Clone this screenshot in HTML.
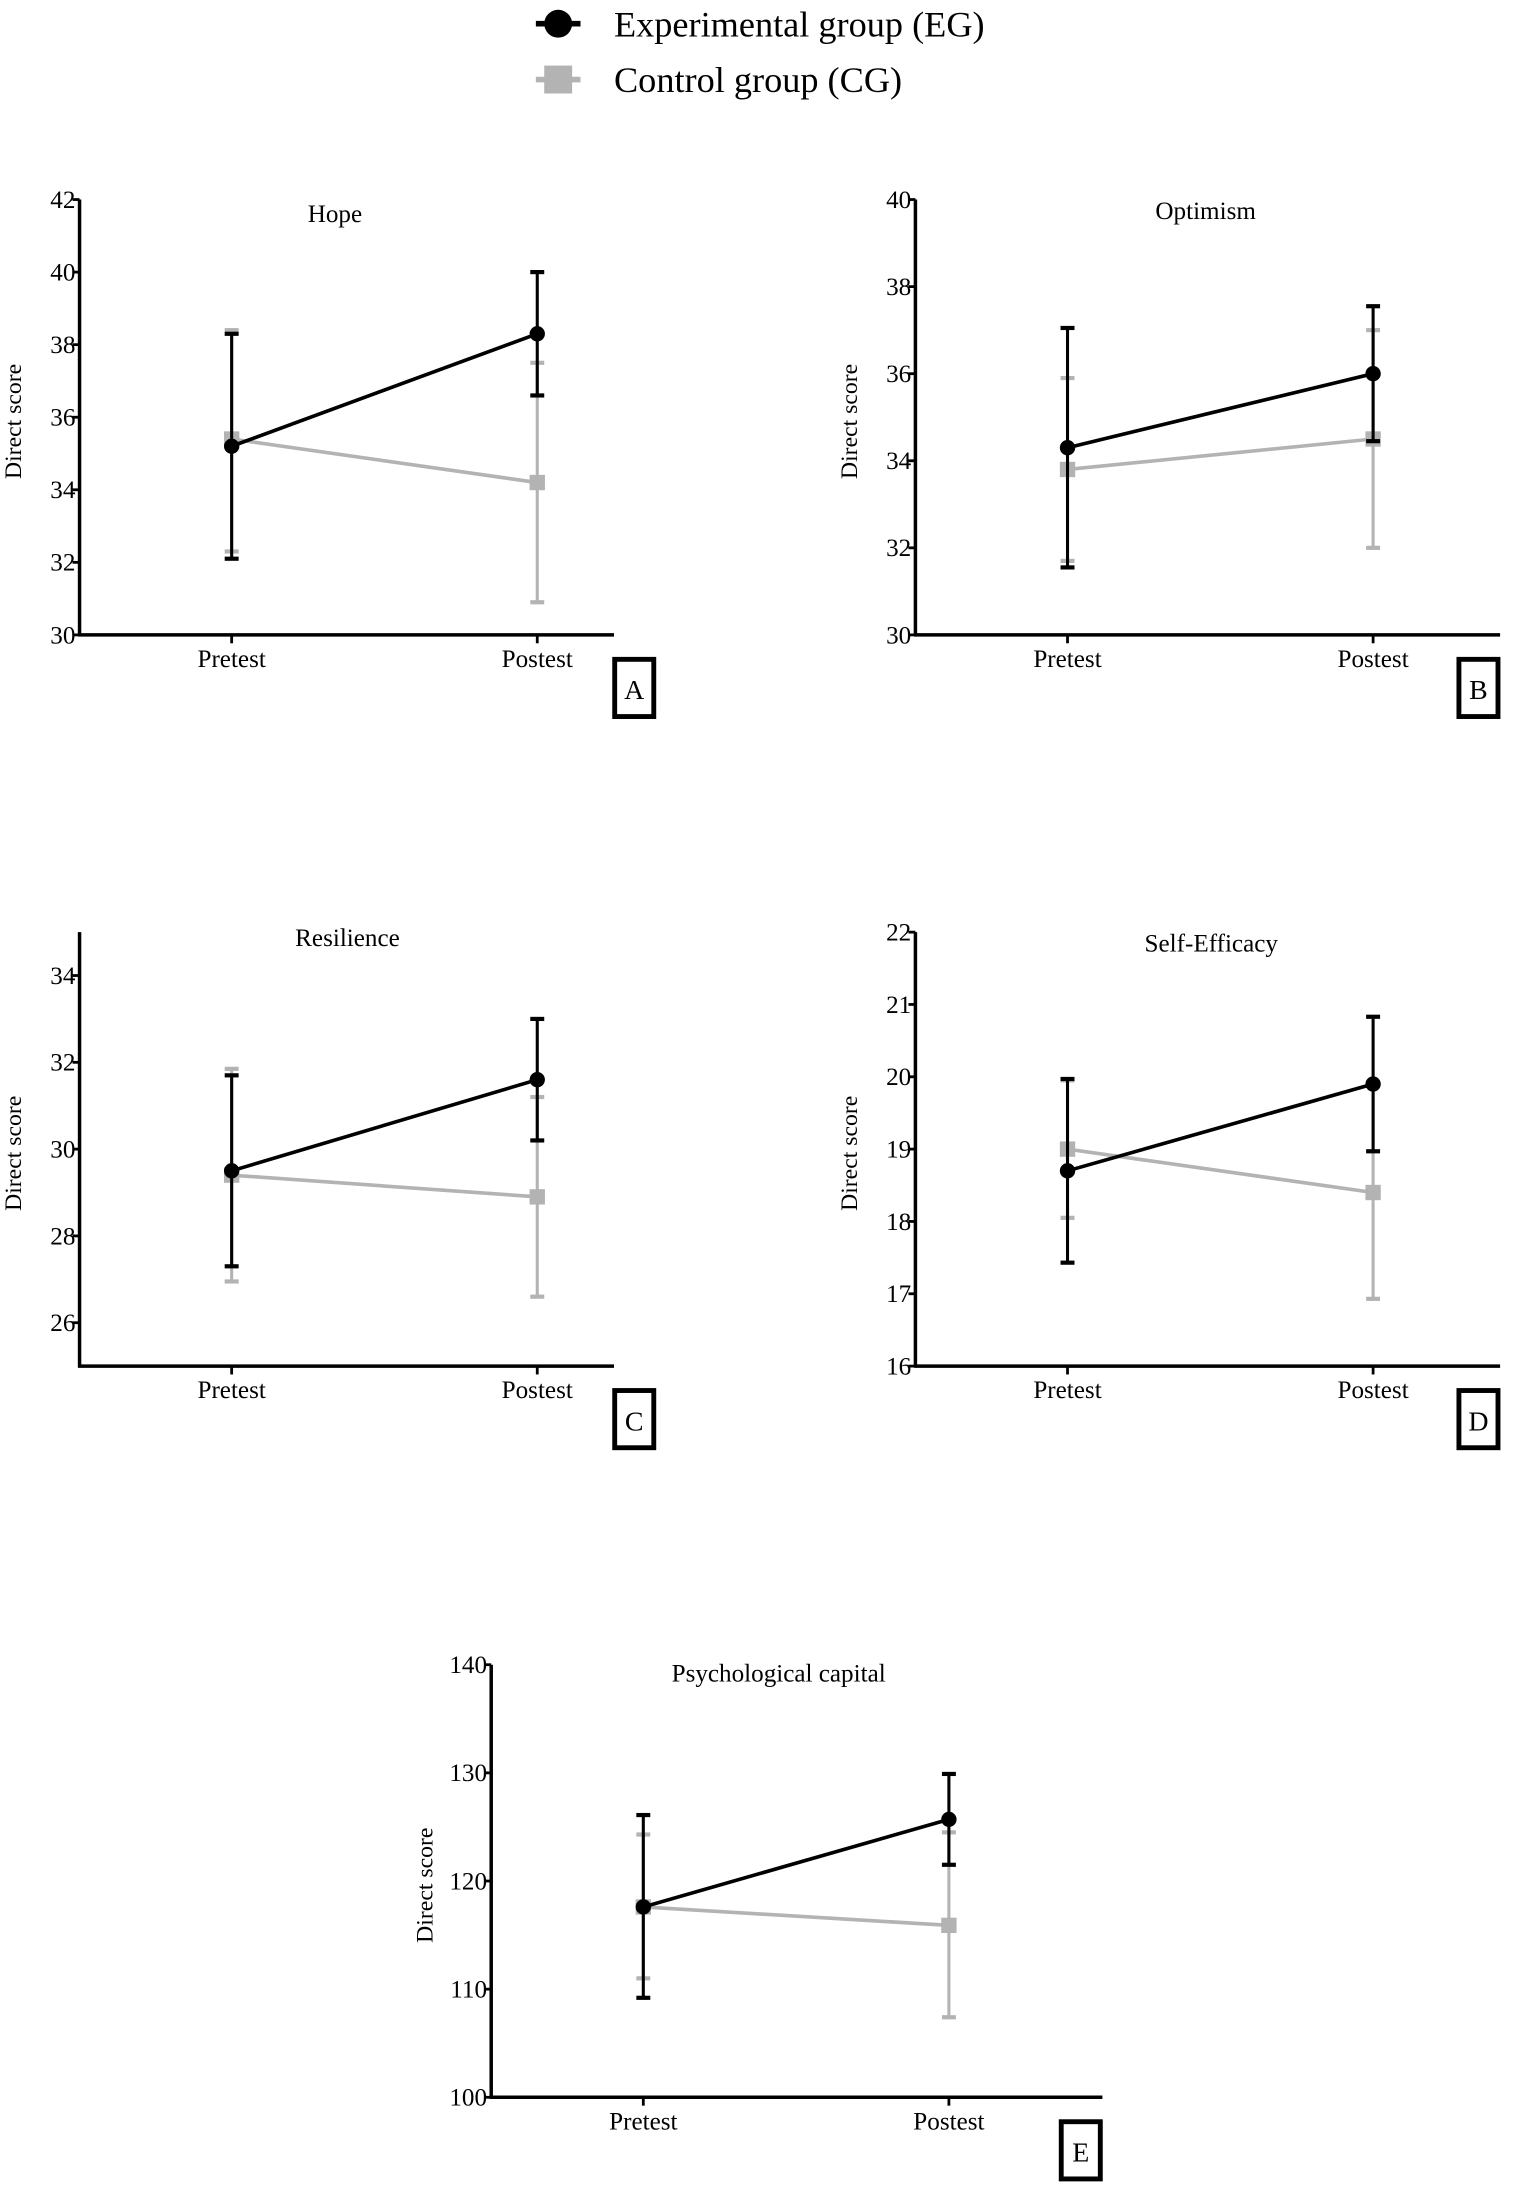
<!DOCTYPE html>
<html><head><meta charset="utf-8"><style>
html,body{margin:0;padding:0;background:#fff}
svg{display:block;font-family:"Liberation Serif",serif}
</style></head><body>
<svg id="fig" width="1535" height="2188" viewBox="0 0 1100 1568" xmlns="http://www.w3.org/2000/svg">
<g>
<g>
<line x1="384" y1="17" x2="416" y2="17" stroke="#000" stroke-width="4"/>
<circle cx="400" cy="17" r="10" fill="#000"/>
<text x="440" y="26" font-size="26">Experimental group (EG)</text>
</g>
<g>
<line x1="384" y1="57" x2="416" y2="57" stroke="#b3b3b3" stroke-width="4"/>
<rect x="390" y="47" width="20" height="20" fill="#b3b3b3"/>
<text x="440" y="66" font-size="26">Control group (CG)</text>
</g>
</g>
</svg>
<script>
const panelNames = ["hope","optimism","resilience","self-efficacy","psychological-capital"];
const panelTitles = ["Hope","Optimism","Resilience","Self-Efficacy","Psychological capital"];
const panelLetters = ["A","B","C","D","E"];
const categories = ["Pretest","Postest"];
const yMins = [30,30,25,16,100];
const yMaxs = [42,40,35,22,140];
const yTicks = [[30,32,34,36,38,40,42],[30,32,34,36,38,40],[26,28,30,32,34],[16,17,18,19,20,21,22],[100,110,120,130,140]];
const egMeans = [[35.2,38.3],[34.3,36.0],[29.5,31.6],[18.7,19.9],[117.6,125.7]];
const egLow = [[32.1,36.6],[31.55,34.45],[27.3,30.2],[17.43,18.97],[109.2,121.5]];
const egHigh = [[38.3,40.0],[37.05,37.55],[31.7,33.0],[19.97,20.83],[126.1,129.9]];
const cgMeans = [[35.4,34.2],[33.8,34.5],[29.4,28.9],[19.0,18.4],[117.6,115.9]];
const cgLow = [[32.3,30.9],[31.7,32.0],[26.95,26.6],[18.05,16.93],[111.0,107.4]];
const cgHigh = [[38.4,37.5],[35.9,37.0],[31.85,31.2],[19.95,19.87],[124.3,124.5]];

const layout = [
 {ax:57,top:143,bot:455,right:440,boxR:470,titleX:240,titleY:159},
 {ax:656,top:143,bot:455,right:1075,boxR:1075,titleX:864,titleY:157},
 {ax:57,top:668,bot:979,right:440,boxR:470,titleX:249,titleY:678},
 {ax:656,top:668,bot:979,right:1075,boxR:1075,titleX:868,titleY:682},
 {ax:352,top:1193,bot:1503,right:790,boxR:790,titleX:558,titleY:1205}
];
const NS="http://www.w3.org/2000/svg";
const svg=document.getElementById('fig');
function mk(tag,attrs,parent){const e=document.createElementNS(NS,tag);for(const k in attrs)e.setAttribute(k,attrs[k]);parent.appendChild(e);return e;}

panelNames.forEach((pn,i)=>{
 const L=layout[i];
 const g=mk('g',{},svg);
 
 
 const y=v=>L.bot-(v-yMins[i])/(yMaxs[i]-yMins[i])*(L.bot-L.top);
 const xs=[L.ax+109,L.ax+328];
 const x=j=>xs[j];
 const ya=mk('line',{x1:L.ax,y1:L.top,x2:L.ax,y2:L.bot+1,stroke:'#000','stroke-width':2.5},g);
 
 
 const xa=mk('line',{x1:L.ax-1,y1:L.bot,x2:L.right,y2:L.bot,stroke:'#000','stroke-width':2.5},g);
 
 
 yTicks[i].forEach(t=>{
  mk('line',{x1:L.ax-5,y1:y(t),x2:L.ax,y2:y(t),stroke:'#000','stroke-width':2},g);
  const tl=mk('text',{x:L.ax-3,y:y(t)+6,'font-size':18,'text-anchor':'end'},g);
  tl.textContent=t;
  
  
 });
 categories.forEach((c,j)=>{
  mk('line',{x1:x(j),y1:L.bot,x2:x(j),y2:L.bot+6,stroke:'#000','stroke-width':2},g);
  const cl=mk('text',{x:x(j),y:L.bot+23,'font-size':18,'text-anchor':'middle'},g);
  cl.textContent=c;
  
  
 });
 const yt=mk('text',{x:0,y:0,'font-size':17,'text-anchor':'middle',transform:`translate(${L.ax-42},${(L.top+L.bot)/2+3}) rotate(-90)`},g);
 yt.textContent='Direct score';
 
 
 const tt=mk('text',{x:L.titleX,y:L.titleY,'font-size':18,'text-anchor':'middle'},g);
 tt.textContent=panelTitles[i];
 
 
 const bx=L.boxR-31, by=L.bot+16;
 const lb=mk('g',{},g);
 
 
 mk('rect',{x:bx+1.5,y:by+1.5,width:28,height:41,fill:'none',stroke:'#000','stroke-width':3.5},lb);
 const lt=mk('text',{x:bx+15.5,y:by+30,'font-size':20,'text-anchor':'middle'},lb);
 lt.textContent=panelLetters[i];
 const series=[{name:'cg',m:cgMeans[i],lo:cgLow[i],hi:cgHigh[i],col:'#b3b3b3'},{name:'eg',m:egMeans[i],lo:egLow[i],hi:egHigh[i],col:'#000'}];
 series.forEach(s=>{
  const sg=mk('g',{},g);
  
  
  s.m.forEach((v,j)=>{
   const eb=mk('g',{stroke:s.col,'stroke-width':2.2},sg);
   
   
   mk('line',{x1:x(j),y1:y(s.lo[j]),x2:x(j),y2:y(s.hi[j])},eb);
   mk('line',{x1:x(j)-5,y1:y(s.lo[j]),x2:x(j)+5,y2:y(s.lo[j]),'stroke-width':3},eb);
   mk('line',{x1:x(j)-5,y1:y(s.hi[j]),x2:x(j)+5,y2:y(s.hi[j]),'stroke-width':3},eb);
  });
  const ln=mk('line',{x1:x(0),y1:y(s.m[0]),x2:x(1),y2:y(s.m[1]),stroke:s.col,'stroke-width':2.6},sg);
  
  
  s.m.forEach((v,j)=>{
   let p;
   if(s.name==='eg') p=mk('circle',{cx:x(j),cy:y(v),r:5.5,fill:'#000'},sg);
   else p=mk('rect',{x:x(j)-5.5,y:y(v)-5.5,width:11,height:11,fill:s.col},sg);
   
   
  });
 });
});
</script>
</body></html>
